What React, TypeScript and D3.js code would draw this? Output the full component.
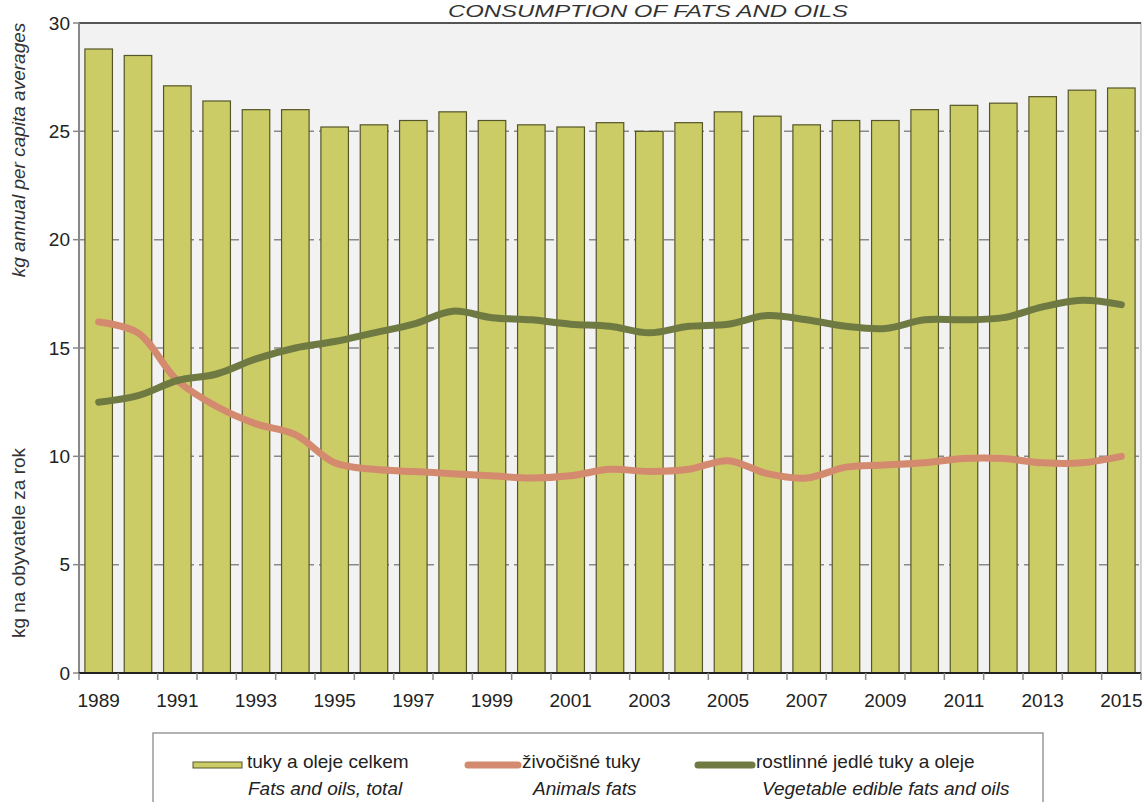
import React from "react";
import * as d3 from "d3";

const years = [1989,1990,1991,1992,1993,1994,1995,1996,1997,1998,1999,2000,2001,2002,2003,2004,2005,2006,2007,2008,2009,2010,2011,2012,2013,2014,2015];
const totalFats = [28.8,28.5,27.1,26.4,26.0,26.0,25.2,25.3,25.5,25.9,25.5,25.3,25.2,25.4,25.0,25.4,25.9,25.7,25.3,25.5,25.5,26.0,26.2,26.3,26.6,26.9,27.0];
const animalFats = [16.2,15.7,13.5,12.3,11.5,11.0,9.7,9.4,9.3,9.2,9.1,9.0,9.1,9.4,9.3,9.4,9.8,9.2,9.0,9.5,9.6,9.7,9.9,9.9,9.7,9.7,10.0];
const vegetableFats = [12.5,12.8,13.5,13.8,14.5,15.0,15.3,15.7,16.1,16.7,16.4,16.3,16.1,16.0,15.7,16.0,16.1,16.5,16.3,16.0,15.9,16.3,16.3,16.4,16.9,17.2,17.0];
const yTicks = [0,5,10,15,20,25,30];
const xLabelYears = [1989,1991,1993,1995,1997,1999,2001,2003,2005,2007,2009,2011,2013,2015];

const FONT = "'Liberation Sans', Arial, sans-serif";

export default function App() {
  const left = 79, right = 1141, top = 23, bottom = 673;
  const x = d3.scaleBand<number>().domain(years).range([left, right]).paddingInner(0.3).paddingOuter(0.15);
  const y = d3.scaleLinear().domain([0, 30]).range([bottom, top]);
  const step = x.step();
  const cx = (yr: number) => (x(yr) as number) + x.bandwidth() / 2;
  const line = d3.line<number>().x((_, i) => cx(years[i])).y((v) => y(v)).curve(d3.curveCatmullRom.alpha(0.5));

  const bounds = years.map((yr) => (x(yr) as number) - (step - x.bandwidth()) / 2);
  bounds.push(right);

  return (
    <svg width={1148} height={802} style={{ position: "absolute", left: 0, top: 0 }} fontFamily={FONT}>
      <rect x={0} y={0} width={1148} height={802} fill="#ffffff" />
      <text x={648} y={17} textAnchor="middle" fontSize={16} fontStyle="italic" fill="#333" textLength={400} lengthAdjust="spacingAndGlyphs">CONSUMPTION OF FATS AND OILS</text>
      <rect x={left} y={top} width={right - left} height={bottom - top} fill="#f2f2f2" stroke="#aaaaaa" strokeWidth={1} />
      <line x1={left} x2={right} y1={top} y2={top} stroke="#555" strokeWidth={2} />
      {yTicks.filter((t) => t > 0 && t < 30).map((t) => (
        <line key={t} x1={left} x2={right} y1={y(t)} y2={y(t)} stroke="#8a8a8a" strokeWidth={1.5} strokeDasharray="10,5" />
      ))}
      {years.map((yr, i) => (
        <rect key={yr} x={x(yr)} y={y(totalFats[i])} width={x.bandwidth()} height={bottom - y(totalFats[i])} fill="#cccc66" stroke="#55552a" strokeWidth={1.2} />
      ))}
      <path d={line(animalFats) || ""} fill="none" stroke="#d48a6e" strokeWidth={7} strokeLinecap="round" strokeLinejoin="round" />
      <path d={line(vegetableFats) || ""} fill="none" stroke="#6e7a42" strokeWidth={7} strokeLinecap="round" strokeLinejoin="round" />
      <line x1={left} x2={left} y1={top} y2={bottom} stroke="#888" strokeWidth={2} />
      <line x1={left - 1} x2={right} y1={bottom} y2={bottom} stroke="#222" strokeWidth={2} />
      {yTicks.map((t) => (
        <g key={t}>
          <line x1={left - 6} x2={left} y1={y(t)} y2={y(t)} stroke="#888" strokeWidth={1.5} />
          <text x={70} y={y(t)} dy="0.35em" textAnchor="end" fontSize={19} fill="#222">{t}</text>
        </g>
      ))}
      {bounds.map((b, i) => (
        <line key={i} x1={b} x2={b} y1={bottom} y2={bottom + 7} stroke="#888" strokeWidth={1.5} />
      ))}
      {xLabelYears.map((yr) => (
        <text key={yr} x={cx(yr)} y={707} textAnchor="middle" fontSize={19} fill="#222">{yr}</text>
      ))}
      <text transform="translate(25,150) rotate(-90)" textAnchor="middle" fontSize={19} fontStyle="italic" fill="#333">kg annual per capita averages</text>
      <text transform="translate(25,543) rotate(-90)" textAnchor="middle" fontSize={19} fill="#333">kg na obyvatele za rok</text>

      <rect x={153} y={733} width={890} height={80} fill="#ffffff" stroke="#999" strokeWidth={1.5} />
      <rect x={193} y={762} width={49} height={6} fill="#cccc66" stroke="#55552a" strokeWidth={1} />
      <text x={247} y={768} fontSize={19} fill="#222">tuky a oleje celkem</text>
      <text x={248} y={795} fontSize={19} fontStyle="italic" fill="#222">Fats and oils, total</text>
      <line x1={468} x2={518} y1={765} y2={765} stroke="#d48a6e" strokeWidth={7} strokeLinecap="round" />
      <text x={522} y={768} fontSize={19} fill="#222">živočišné tuky</text>
      <text x={533} y={795} fontSize={19} fontStyle="italic" fill="#222">Animals fats</text>
      <line x1={698} x2={752} y1={765} y2={765} stroke="#6e7a42" strokeWidth={7} strokeLinecap="round" />
      <text x={756} y={768} fontSize={19} fill="#222">rostlinné jedlé tuky a oleje</text>
      <text x={762} y={795} fontSize={19} fontStyle="italic" fill="#222">Vegetable edible fats and oils</text>
    </svg>
  );
}
